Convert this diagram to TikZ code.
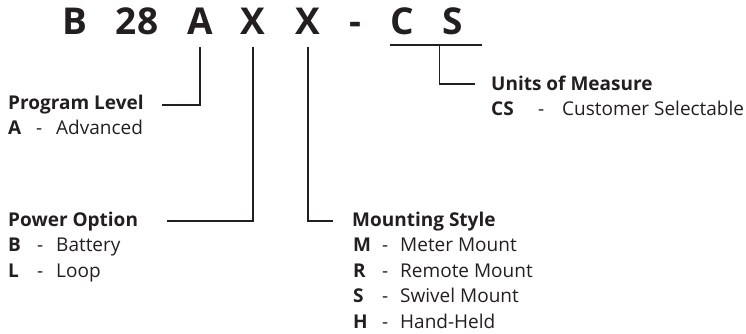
\documentclass[tikz,border=0pt]{standalone}
\usepackage{fontspec}
\setmainfont{Open Sans}
\definecolor{codegray}{RGB}{35,31,32}
\usetikzlibrary{positioning,calc}

\begin{document}
\begin{tikzpicture}[x=1pt,y=-1pt,
    code/.style={inner sep=0pt,anchor=base,text=codegray,
      font=\fontsize{37}{37}\selectfont\bfseries},
    head/.style={inner sep=0pt,anchor=base west,text=codegray,
      font=\fontsize{19}{22}\selectfont\bfseries},
    item/.style={inner sep=0pt,anchor=base west,text=codegray,
      font=\fontsize{19}{22}\selectfont},
    key/.style={item,font=\fontsize{19}{22}\selectfont\bfseries},
    lead/.style={line width=1.5pt,draw=codegray}]
  \useasboundingbox (0,0) rectangle (746,334);
  % model number
  \node[code] (cB)    at (75,35)  {B};
  \node[code] (c28)   at (137,35) {28};
  \node[code] (cA)    at (200,35) {A};
  \node[code] (cX1)   at (253,35) {X};
  \node[code] (cX2)   at (308,35) {X};
  \node[code] (cdash) at (355,35) {-};
  \node[code] (cC)    at (402,35) {C};
  \node[code] (cS)    at (453,35) {S};
  \coordinate (ulL) at (390,45);
  \coordinate (ulR) at (482,45);

  % program level
  \node[head] (prog)  at (8,110)  {Program Level};
  \node[key]  (progA) at (8,135)  {A};
  \node[item] (progAd) at (36,135) {-};
  \node[item] (progAt) at (56,135) {Advanced};

  % power option
  \node[head] (pow)   at (8,226)   {Power Option};
  \node[key]  (powB)  at (8,251.5) {B};
  \node[item] (powBd) at (37,251.5) {-};
  \node[item] (powBt) at (56,251.5) {Battery};
  \node[key]  (powL)  at (8,277)   {L};
  \node[item] (powLd) at (37,277)  {-};
  \node[item] (powLt) at (56,277)  {Loop};

  % mounting style
  \node[head] (mnt)   at (352,226)   {Mounting Style};
  \node[key]  (mntM)  at (353,251.5) {M};
  \node[item] (mntMd) at (382,251.5) {-};
  \node[item] (mntMt) at (400,251.5) {Meter Mount};
  \node[key]  (mntR)  at (353,277)   {R};
  \node[item] (mntRd) at (382,277)   {-};
  \node[item] (mntRt) at (400,277)   {Remote Mount};
  \node[key]  (mntS)  at (353,302.5) {S};
  \node[item] (mntSd) at (382,302.5) {-};
  \node[item] (mntSt) at (400,302.5) {Swivel Mount};
  \node[key]  (mntH)  at (353,328)   {H};
  \node[item] (mntHd) at (382,328)   {-};
  \node[item] (mntHt) at (400,328)   {Hand-Held};

  % units of measure
  \node[head] (unit)   at (491,91)  {Units of Measure};
  \node[key]  (unitC)  at (491,116) {CS};
  \node[item] (unitCd) at (538,116) {-};
  \node[item] (unitCt) at (562,116) {Customer Selectable};

  % leaders
  \draw[lead] ([yshift=-12pt]cA.south) |- (prog.east -| 162,0);
  \draw[lead] ([yshift=-12pt]cX1.south) |- (pow.east -| 167,0);
  \draw[lead] ([yshift=-12pt]cX2.south) |- ([xshift=-19pt]mnt.west);
  \draw[lead] (ulL) -- (ulR);
  \draw[lead] ($(ulL)!0.54!(ulR)$) |- ([xshift=-16pt]unit.west);
\end{tikzpicture}
\end{document}
